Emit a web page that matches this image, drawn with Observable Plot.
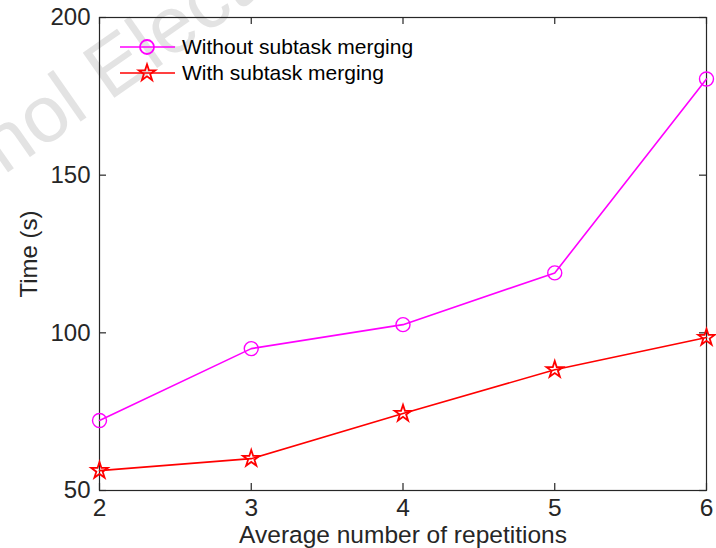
<!DOCTYPE html>
<html><head><meta charset="utf-8">
<script src="https://cdn.jsdelivr.net/npm/d3@7"></script>
<script src="https://cdn.jsdelivr.net/npm/@observablehq/plot@0.6"></script>
<style>
body{margin:0;background:#fff;}
#chart{width:716px;height:548px;overflow:hidden;}
</style></head>
<body><div id="chart"></div>
<script>
const repetitions = [2, 3, 4, 5, 6];
const withoutMerging = [72.2, 95.0, 102.6, 119.0, 180.5];
const withMerging = [56.3, 60.1, 74.4, 88.3, 98.5];
const seriesNames = ["Without subtask merging", "With subtask merging"];
const seriesColors = ["#ff00ff", "#ff0000"];
const xTicks = [2, 3, 4, 5, 6];
const yTicks = [50, 100, 150, 200];
const watermarkText = "hnol Electronic";

const data = [];
repetitions.forEach((r, i) => {
  data.push({x: r, y: withoutMerging[i], s: seriesNames[0]});
  data.push({x: r, y: withMerging[i], s: seriesNames[1]});
});
const s0 = data.filter(d => d.s === seriesNames[0]);
const s1 = data.filter(d => d.s === seriesNames[1]);
const axisColor = "#262626";
const W = 716, H = 548, mL = 99, mR = 10, mT = 17, mB = 58;
const tickLen = 7;

const plot = Plot.plot({
  width: W, height: H,
  marginLeft: mL, marginRight: mR, marginTop: mT, marginBottom: mB,
  style: {fontFamily: "Liberation Sans, Arial, sans-serif", fontSize: "24px", color: axisColor, background: "transparent", overflow: "hidden"},
  x: {domain: [2, 6]},
  y: {domain: [50, 200]},
  marks: [
    Plot.frame({stroke: axisColor, strokeWidth: 1.2}),
    Plot.axisX(xTicks, {anchor: "bottom", tickSize: 0, tickPadding: 8, tickFormat: d3.format("d"), label: "Average number of repetitions", labelArrow: "none", labelAnchor: "center", labelOffset: 52, fontSize: 24.5, color: axisColor}),
    Plot.axisY(yTicks, {anchor: "left", tickSize: 0, tickPadding: 9, tickFormat: d3.format("d"), label: "Time (s)", labelAnchor: "center", labelArrow: "none", labelOffset: 80, fontSize: 24}),
    // inward ticks on all four sides
    Plot.tickX(xTicks, {x: d => d, stroke: axisColor, strokeWidth: 1.2, insetTop: H - mT - mB - tickLen}),
    Plot.tickX(xTicks, {x: d => d, stroke: axisColor, strokeWidth: 1.2, insetBottom: H - mT - mB - tickLen}),
    Plot.tickY(yTicks, {y: d => d, stroke: axisColor, strokeWidth: 1.2, insetRight: W - mL - mR - tickLen}),
    Plot.tickY(yTicks, {y: d => d, stroke: axisColor, strokeWidth: 1.2, insetLeft: W - mL - mR - tickLen}),
    Plot.line(s0, {x: "x", y: "y", stroke: seriesColors[0], strokeWidth: 1.6}),
    Plot.line(s1, {x: "x", y: "y", stroke: seriesColors[1], strokeWidth: 1.6}),
    Plot.dot(s0, {x: "x", y: "y", stroke: seriesColors[0], fill: "none", r: 7, strokeWidth: 1.4, symbol: "circle"}),
    Plot.dot(s1, {x: "x", y: "y", stroke: seriesColors[1], fill: "none", r: 5.2, strokeWidth: 1.8, symbol: "star"})
  ]
});
document.getElementById("chart").appendChild(plot);

const svg = d3.select(plot);
// watermark behind everything
svg.insert("text", ":first-child")
  .attr("transform", "translate(-33,201) rotate(-35)")
  .attr("font-family", "Liberation Sans, Arial, sans-serif")
  .attr("font-size", "80px")
  .attr("text-anchor", "start")
  .attr("fill", "#e3e3e3")
  .text(watermarkText);

// legend inside the axes, top-left
const leg = svg.append("g").attr("font-family", "Liberation Sans, Arial, sans-serif").attr("font-size", "21px").attr("text-anchor", "start");
const symbols = [d3.symbolCircle, d3.symbolStar];
seriesNames.forEach((name, i) => {
  const yy = 47 + i * 26;
  leg.append("line").attr("x1", 120).attr("x2", 175).attr("y1", yy).attr("y2", yy).attr("stroke", seriesColors[i]).attr("stroke-width", 1.6);
  leg.append("path").attr("d", d3.symbol(symbols[i], i === 0 ? 154 : 85)()).attr("transform", `translate(147,${yy})`).attr("fill", "none").attr("stroke", seriesColors[i]).attr("stroke-width", 1.8);
  leg.append("text").attr("x", 182).attr("y", yy).attr("dy", "0.35em").attr("fill", "#000").text(name);
});
</script>
</body></html>
